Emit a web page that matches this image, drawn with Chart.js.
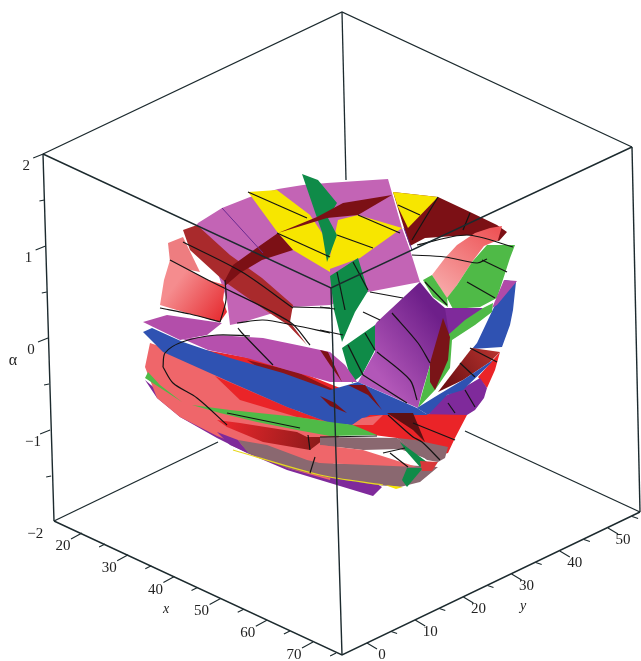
<!DOCTYPE html>
<html>
<head>
<meta charset="utf-8">
<script src="https://cdn.jsdelivr.net/npm/chart.js@4"></script>
<style>
  html, body { margin: 0; padding: 0; background: #fff; }
  canvas { display: block; filter: blur(0.4px); }
</style>
</head>
<body>
<canvas id="surfaceChart" width="641" height="661"></canvas>
<script>
// axis values
const xTicks = [20, 30, 40, 50, 60, 70];
const xMinor = [25, 35, 45, 55, 65, 75];
const yTicks = [0, 10, 20, 30, 40, 50];
const yMinor = [5, 15, 25, 35, 45, 55];
const alphaTicks = [2, 1, 0, -1, -2];
const alphaMinor = [1.5, 0.5, -0.5, -1.5];

// box corners and surface patches, as projected (u, v)
const boxBack = [[43,154],[342,12],[632,147]];
const boxBackVertical = [[342,12],[346,180]];
const boxBackLeftFloor = [[54,521],[218,442]];
const boxBackRightFloor = [[640,512],[465,431]];
const boxFront = [[43,154],[331,288],[632,147]];
const boxFrontVertical = [[331,288],[342,655]];
const boxLeft = [[43,154],[54,521]];
const boxRight = [[632,147],[640,512]];
const boxFloor = [[54,521],[342,655],[640,512]];

const rightMaroon = [[393,192],[438,197],[470,212],[497,225],[507,232],[499,241],[470,235],[425,238],[410,246],[404,228]];
const rightYellow = [[393,192],[438,197],[408,228],[398,207]];
const topMagenta = [[198,223],[222,208],[250,197],[278,189],[303,185],[327,183],[388,179],[402,228],[410,250],[420,282],[368,292],[330,305],[293,307],[240,323],[230,325],[227,300],[215,265],[190,235]];
const leftPinkBack = [[168,243],[183,237],[200,272],[180,268],[170,262]];
const leftPink = [[170,260],[208,280],[225,285],[223,300],[227,312],[220,322],[190,314],[160,305],[164,280]];
const leftBrick = [[183,230],[197,225],[230,255],[262,278],[293,305],[290,322],[307,345],[288,325],[265,310],[225,282],[190,250]];
const topYellowLeft = [[248,192],[277,190],[310,215],[330,245],[330,272],[293,250],[278,233]];
const topYellowRight = [[327,270],[338,220],[358,215],[402,228],[360,258]];
const leftMaroonArc = [[225,280],[233,265],[258,247],[278,233],[293,250],[262,260],[240,273],[225,286]];
const midMaroon = [[278,233],[317,217],[343,203],[392,195],[358,215],[327,218]];
const greenSpike = [[302,174],[318,180],[337,203],[328,218],[337,235],[327,262],[322,232],[316,215]];
const greenMid = [[330,276],[358,258],[368,291],[355,312],[342,342],[334,310]];
const greenLow = [[342,348],[375,325],[375,350],[362,375],[352,383]];
const rightSalmon = [[502,226],[498,240],[484,246],[472,262],[457,285],[447,299],[432,275],[445,258],[457,245],[475,233],[490,228]];
const rightLime = [[487,245],[515,245],[510,258],[497,298],[480,307],[453,309],[447,298],[457,285],[472,262]];
const rightLimeSmall = [[423,280],[432,275],[447,298],[448,307],[433,297]];
const rightBlue = [[505,280],[516,282],[513,310],[510,325],[502,347],[472,349],[477,343],[495,305]];
const rightSliver = [[504,280],[517,281],[497,305],[492,308]];
const purpleDeep = [[445,308],[483,308],[473,318],[452,337],[448,340],[438,320]];
const purpleMain = [[377,322],[420,282],[433,298],[445,308],[450,340],[430,365],[422,392],[418,408],[395,398],[358,382],[375,352],[375,325]];
const limeStrip = [[483,308],[493,303],[492,312],[475,325],[452,340],[450,368],[435,390],[418,408],[430,365],[448,335],[465,320]];
const lowerRightShade = [[472,348],[500,352],[490,362],[463,380],[438,392],[455,370]];
const centerLeaf = [[443,318],[450,337],[448,360],[435,390],[430,382],[430,363]];
const rightPurpleBand = [[428,415],[440,398],[463,388],[480,378],[487,388],[484,398],[475,410],[467,415]];
const rightBlueSweep = [[493,360],[463,380],[438,395],[417,408],[428,415],[447,395],[463,390],[490,364]];
const rightRed = [[500,352],[493,360],[478,377],[487,388],[495,370]];
const bottomPurple = [[145,380],[157,390],[215,432],[240,442],[330,476],[377,484],[382,487],[373,496],[330,483],[287,470],[247,453],[217,438],[180,417],[157,398]];
const lowerSalmon = [[150,343],[145,367],[157,398],[180,417],[217,436],[240,445],[287,468],[330,480],[342,420],[300,412],[230,378],[165,348]];
const lowerRedMass = [[345,408],[370,413],[467,415],[455,438],[448,453],[430,458],[397,438],[350,432]];
const upperRedStripe = [[215,376],[287,407],[330,423],[353,425],[297,417],[240,400]];
const lowerRedStripe = [[217,420],[240,423],[297,432],[307,437],[327,437],[310,450],[263,442],[227,427]];
const purpleWedge = [[217,432],[238,440],[248,453],[230,445]];
const lowMagentaLeft = [[143,322],[167,315],[222,323],[207,335],[180,340]];
const underMagentaRed = [[205,350],[250,358],[300,372],[340,388],[330,395],[270,378]];
const underMagentaMaroon = [[247,360],[297,372],[345,395],[340,405],[285,385]];
const lowMagenta = [[183,339],[217,335],[263,338],[297,345],[330,352],[345,365],[357,382],[330,382],[287,370],[247,358],[208,350]];
const magentaStreak = [[320,350],[328,352],[342,382],[330,365]];
const centerMaroon = [[348,385],[365,385],[382,410],[368,395]];
const blueBand = [[143,332],[152,328],[183,342],[230,358],[283,373],[330,390],[358,382],[417,408],[428,415],[370,415],[352,425],[330,423],[287,407],[230,382],[163,352]];
const blueStreak = [[320,396],[335,403],[347,413],[330,406]];
const limeLeft = [[148,372],[145,378],[182,402],[160,385]];
const limeRightStripe = [[192,405],[230,410],[297,417],[330,422],[353,425],[377,435],[330,436],[297,430],[257,422],[220,413]];
const rearGray = [[320,437],[397,438],[430,460],[400,449],[363,450],[320,445]];
const frontGray = [[238,440],[267,445],[307,460],[320,463],[403,465],[438,467],[420,482],[400,487],[377,485],[330,478],[287,468],[248,453]];
const midRightGray = [[397,438],[415,440],[448,447],[445,458],[438,462],[427,460]];
const midSalmon = [[320,445],[363,450],[417,467],[320,463],[300,455]];
const lowMaroonWedge = [[387,413],[413,413],[425,442],[413,430]];
const midSalmonTop = [[362,418],[383,415],[373,425],[352,425]];
const greenWedgeTop = [[400,442],[427,462],[420,467],[405,450]];
const greenWedgeLow = [[407,468],[423,468],[407,487],[402,480]];
const yellowChip = [[385,485],[403,487],[396,489]];
const dullRedCorner = [[420,461],[438,462],[432,471],[422,471]];

// mesh curves on the surface
const meshLines = [
  [[183,242],[242,272],[293,308]],
  [[170,260],[208,280],[290,322],[310,345]],
  [[248,192],[307,218]],
  [[277,233],[330,257]],
  [[337,235],[373,248]],
  [[358,215],[400,233]],
  [[225,280],[226,300],[220,322]],
  [[160,308],[190,314],[220,322]],
  [[237,323],[263,320],[293,325],[330,333]],
  [[293,307],[330,308]],
  [[163,367],[165,353],[182,342],[217,335],[250,336]],
  [[163,367],[173,383],[197,398],[227,425]],
  [[238,328],[242,333],[273,365]],
  [[412,255],[445,257],[477,263],[487,259]],
  [[417,245],[467,235],[513,247]],
  [[370,292],[403,298]],
  [[363,312],[380,320]],
  [[320,307],[335,309]],
  [[320,330],[343,335]],
  [[392,313],[418,343],[430,363]],
  [[363,375],[407,403]],
  [[377,352],[410,380],[417,400]],
  [[348,345],[363,375]],
  [[365,333],[375,350]],
  [[337,272],[345,310]],
  [[353,262],[368,290]],
  [[467,282],[495,298]],
  [[482,260],[507,272]],
  [[425,282],[447,305]],
  [[470,348],[497,362]],
  [[460,363],[475,377]],
  [[448,403],[455,413]],
  [[465,390],[475,407]],
  [[388,415],[413,437],[422,442],[440,460]],
  [[413,423],[455,440]],
  [[320,437],[377,436]],
  [[383,453],[405,448]],
  [[390,453],[408,467]],
  [[308,435],[310,450]],
  [[310,473],[315,457]],
  [[227,413],[300,428]],
  [[438,197],[412,240]],
  [[470,213],[463,230]],
  [[398,205],[420,215]]
];
const yellowEdge = [[233,450],[320,475],[383,485]];
const magentaMesh = [[[222,208],[263,253]],[[404,228],[412,250]]];

const maroon = '#7c1015';
const brick = '#a92a2c';
const red = '#ea2428';
const salmon = '#ef666a';
const orchid = '#c364b5';
const purple = '#7f2a9b';
const blue = '#2f52b2';
const lime = '#4fba47';
const green = '#0f8b48';
const yellow = '#f7e600';
const gray = '#8a6870';

const pts = list => list.map(p => ({ x: p[0], y: p[1] }));

function shade(c1, c2, from, to) {
  return ctx => {
    const s = ctx.chart.scales;
    if (!s.x || !s.y) return c1;
    const x0 = s.x.getPixelForValue(from[0]), y0 = s.y.getPixelForValue(from[1]);
    const x1 = s.x.getPixelForValue(to[0]), y1 = s.y.getPixelForValue(to[1]);
    if (![x0, y0, x1, y1].every(Number.isFinite)) return c1;
    const g = ctx.chart.ctx.createLinearGradient(x0, y0, x1, y1);
    g.addColorStop(0, c1);
    g.addColorStop(1, c2);
    return g;
  };
}

function patch(list, color) {
  return {
    data: pts(list), showLine: true, fill: 'shape', backgroundColor: color,
    borderColor: 'transparent', borderWidth: 0, pointRadius: 0, tension: 0
  };
}
function line(list, color, width, tension) {
  return {
    data: pts(list), showLine: true, fill: false, borderColor: color,
    borderWidth: width, pointRadius: 0, tension: tension || 0
  };
}

// tick marks and their label spots, along the box edges
const xAt = v => [82 + (v - 20) * 4.62, 533 + (v - 20) * 2.18];
const yAt = v => [367 + v * 4.82, 643 - v * 2.3];
const alphaAt = v => [48 - v * 2.4 + (v < 0 ? v * 0.3 : 0), 338 - v * 92];

function tickSet(values, at, dx, dy) {
  const out = [];
  values.forEach(v => {
    const p = at(v);
    out.push([p[0], p[1]], [p[0] + dx, p[1] + dy], [NaN, NaN]);
  });
  return out;
}

const boxColor = '#1c2a2e';
const datasets = [
  line(boxBack, boxColor, 1.3), line(boxBackVertical, boxColor, 1.3),
  line(boxBackLeftFloor, boxColor, 1.3), line(boxBackRightFloor, boxColor, 1.3),
  patch(rightMaroon, maroon), patch(rightYellow, yellow),
  patch(topMagenta, orchid),
  patch(leftPinkBack, '#ee7d80'),
  patch(leftPink, shade('#f58c8e', '#e5262b', [175, 285], [225, 322])),
  patch(leftBrick, brick),
  patch(topYellowLeft, yellow), patch(topYellowRight, yellow),
  patch(greenMid, green), patch(greenSpike, green), patch(greenLow, green),
  patch(leftMaroonArc, maroon), patch(midMaroon, maroon),
  patch(rightSalmon, shade('#f7a8a8', '#ee5558', [445, 295], [495, 230])),
  patch(rightLime, lime), patch(rightLimeSmall, lime),
  patch(rightBlue, blue), patch(rightSliver, '#b04aa8'),
  patch(purpleDeep, purple),
  patch(purpleMain, shade('#b257b8', '#6e1f8a', [375, 370], [440, 320])),
  patch(limeStrip, lime),
  patch(rightRed, red),
  patch(lowerRightShade, shade('#6e1013', '#b5322e', [445, 385], [495, 350])),
  patch(centerLeaf, '#7a1418'),
  patch(rightPurpleBand, purple), patch(rightBlueSweep, blue),
  patch(bottomPurple, purple),
  patch(lowerSalmon, salmon),
  patch(purpleWedge, purple),
  patch(lowerRedMass, red),
  patch(upperRedStripe, red), patch(lowerRedStripe, shade('#e5262b', '#8c1a1a', [230, 420], [320, 440])),
  patch(lowMagentaLeft, '#b34eaa'),
  patch(underMagentaRed, red), patch(underMagentaMaroon, '#8c1418'),
  patch(lowMagenta, '#b650ad'),
  patch(magentaStreak, maroon),
  patch(blueBand, blue),
  patch(centerMaroon, maroon), patch(blueStreak, maroon),
  patch(limeLeft, lime), patch(limeRightStripe, lime),
  patch(rearGray, gray), patch(frontGray, gray), patch(midRightGray, gray), patch(midSalmon, salmon),
  patch(lowMaroonWedge, '#5e1012'), patch(midSalmonTop, salmon),
  patch(greenWedgeTop, green), patch(greenWedgeLow, green),
  patch(dullRedCorner, '#d8383a'), patch(yellowChip, yellow),
  line(yellowEdge, '#e8d820', 1.2, 0.3)
];
meshLines.forEach(m => datasets.push(line(m, '#141414', 1.2, 0.3)));
magentaMesh.forEach(m => datasets.push(line(m, '#6a2a90', 1, 0)));
datasets.push(
  line(boxFront, boxColor, 1.4), line(boxFrontVertical, boxColor, 1.4),
  line(boxLeft, boxColor, 1.4), line(boxRight, boxColor, 1.4), line(boxFloor, boxColor, 1.4),
  line(tickSet(xTicks, xAt, -11, 6), boxColor, 1.1),
  line(tickSet(xMinor, xAt, -6, 3), boxColor, 1.1),
  line(tickSet(yTicks, yAt, 10, 6), boxColor, 1.1),
  line(tickSet(yMinor, yAt, 6, 2), boxColor, 1.1),
  line(tickSet(alphaTicks.slice(0, 4), alphaAt, -10, 4), boxColor, 1.1),
  line(tickSet(alphaMinor, alphaAt, -5, 1), boxColor, 1.1)
);
// Chart.js paints the first dataset last, the list above runs back to front
datasets.reverse();

const axisText = {
  id: 'axisText',
  afterDatasetsDraw(chart) {
    const c = chart.ctx, sx = chart.scales.x, sy = chart.scales.y;
    const put = (txt, u, v, font) => {
      c.font = font;
      c.fillText(txt, sx.getPixelForValue(u), sy.getPixelForValue(v));
    };
    c.save();
    c.fillStyle = '#222';
    c.textAlign = 'center';
    c.textBaseline = 'middle';
    const num = '15px "Liberation Serif"';
    xTicks.forEach(v => { const p = xAt(v); put(String(v), p[0] - 19, p[1] + 13, num); });
    yTicks.forEach(v => { const p = yAt(v); put(String(v), p[0] + 15, p[1] + 12, num); });
    alphaTicks.forEach(v => {
      const p = alphaAt(v);
      put(v < 0 ? '\u2212' + (-v) : String(v), p[0] - 17, p[1] + 12, num);
    });
    put('x', 166, 609, 'italic 14px "Liberation Serif"');
    put('y', 523, 606, 'italic 14px "Liberation Serif"');
    put('\u03b1', 13, 361, '16px "Liberation Serif"');
    c.restore();
  }
};

new Chart(document.getElementById('surfaceChart').getContext('2d'), {
  type: 'scatter',
  data: { datasets: datasets },
  options: {
    responsive: false,
    animation: false,
    layout: { padding: 0 },
    plugins: { legend: { display: false }, tooltip: { enabled: false } },
    scales: {
      x: { type: 'linear', display: false, min: 0, max: 641 },
      y: { type: 'linear', display: false, min: 0, max: 661, reverse: true }
    }
  },
  plugins: [axisText]
});
</script>
</body>
</html>
